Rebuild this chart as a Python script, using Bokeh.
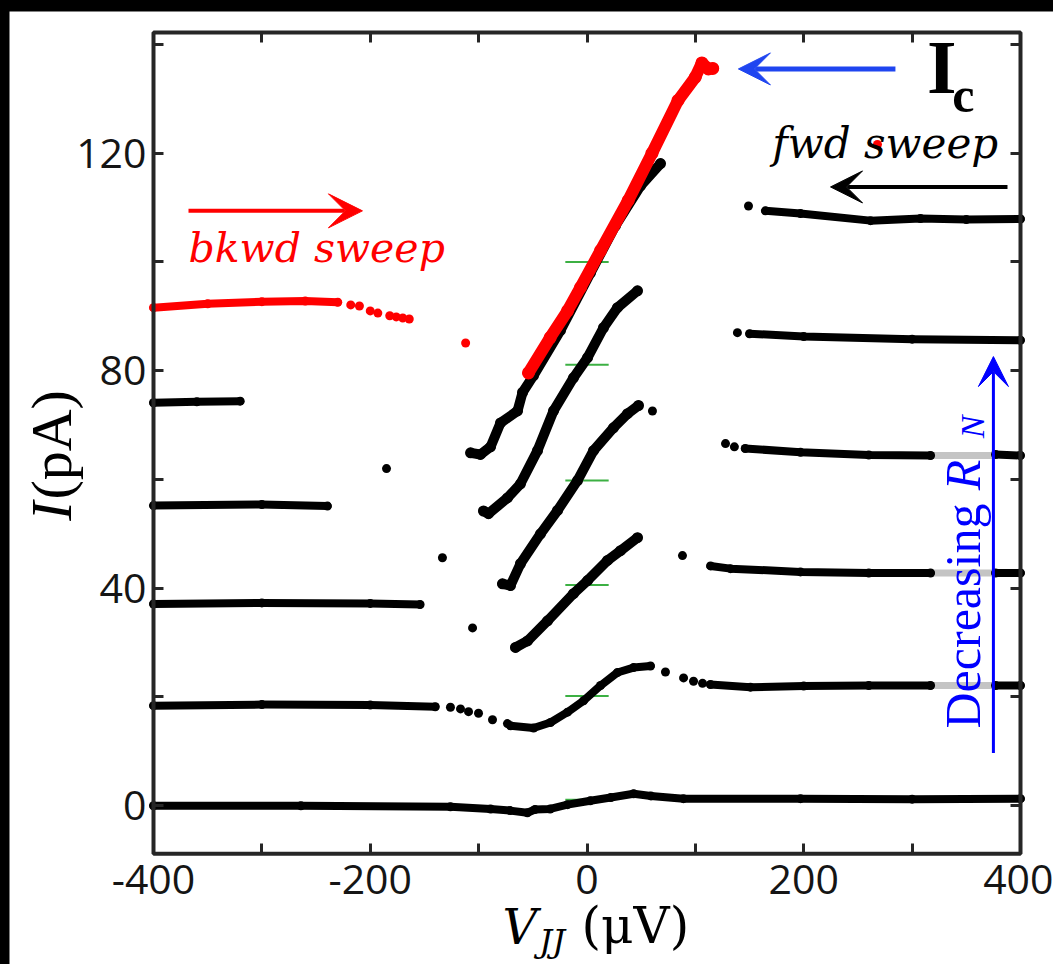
import numpy as np
from bokeh.plotting import figure
from bokeh.models import Range1d, LinearAxis, FixedTicker, Arrow, VeeHead, Label, BoxAnnotation
from bokeh.layouts import column
from bokeh.embed import file_html
from bokeh.resources import INLINE

# ---------------- data ----------------
# curve 0 (bottom)
c0_x = [-400, -264, -126, -89, -71, -55, -48, -34, -18, 3, 22, 43, 59, 89, 197, 300, 400]
c0_y = [0, 0, -0.2, -0.6, -0.9, -1.3, -0.7, -0.6, 0.2, 0.9, 1.5, 2.2, 1.8, 1.3, 1.3, 1.2, 1.3]

# curve 1
c1_left_x = [-400, -300, -200, -140]
c1_left_y = [18.4, 18.6, 18.5, 18.2]
c1_dots_x = [-126, -116.7, -109.3, -100.1, -87.2, -73.4, 72.4, 89.1, 98.3, 106.6]
c1_dots_y = [18.1, 17.8, 17.3, 17.0, 15.8, 15.1, 24.6, 23.5, 22.9, 22.5]
c1_mid_x = [-70.6, -49.3, -33.7, -18.0, -3.2, 12.5, 28.1, 42.9, 58.6]
c1_mid_y = [14.7, 14.3, 15.3, 17.2, 19.3, 22.1, 24.5, 25.4, 25.7]
c1_right_x = [113.9, 150.8, 200, 260, 317]
c1_right_y = [22.3, 21.8, 22.0, 22.1, 22.1]
c1_end_x = [377, 400]
c1_end_y = [22.1, 22.1]

# curve 2
c2_left_x = [-400, -300, -200, -154]
c2_left_y = [37.1, 37.3, 37.2, 37.0]
c2_slope_x = [-66.0, -54.9, -36.4, -12.5, 0.5, 18.9, 30.9, 46.6]
c2_slope_y = [29.1, 30.3, 34.0, 39.0, 41.4, 45.1, 46.9, 49.3]
c2_right_x = [114, 132.4, 197, 260, 317]
c2_right_y = [44.1, 43.6, 43.0, 42.8, 42.8]
c2_end_x = [377, 400]
c2_end_y = [42.8, 42.8]

# curve 3
c3_left_x = [-400, -300, -239.5]
c3_left_y = [55.2, 55.4, 55.1]
c3_slope_x = [-78.0, -70.6, -61.4, -42.9, -27.2, -8.8, 6.0, 24.4, 37.4, 47.5]
c3_slope_y = [40.8, 40.5, 44.5, 50.0, 54.3, 59.8, 65.3, 69.5, 72.1, 73.6]
c3_right_x = [146, 197, 260, 317]
c3_right_y = [65.7, 65.0, 64.5, 64.4]
c3_end_x = [377, 400]
c3_end_y = [64.6, 64.4]

# curve 4
c4_left_x = [-400, -360, -320]
c4_left_y = [74.1, 74.3, 74.4]
c4_slope_x = [-95.5, -90.9, -73.4, -61.4, -45.7, -30.9, -12.5, 0.5, 15.2, 28.1, 46.6]
c4_slope_y = [54.2, 53.7, 56.6, 59.2, 65.3, 72.6, 78.7, 82.4, 87.9, 91.6, 94.7]
c4_right_x = [150, 200, 300, 400]
c4_right_y = [86.8, 86.3, 85.8, 85.6]

# curve 5 (forward sweep, top)
c5_slope_x = [-107.4, -98.3, -89.0, -79.8, -64.1, -59.5, -49.4, -24.5, 3.2, 26.3, 49.4, 67.8]
c5_slope_y = [64.9, 64.6, 66.0, 70.4, 72.6, 76.0, 79.1, 87.4, 98.0, 106.7, 114.0, 118.1]
c5_right_x = [164.6, 197, 261.6, 307.7, 350, 400]
c5_right_y = [109.4, 108.9, 107.6, 108.0, 107.8, 107.9]

# isolated black points
blk_dots_x = [-133.4, -105.6, 88.1, 60.4, -185, 127.8, 136, 138.8, 149]
blk_dots_y = [45.6, 32.7, 46.0, 72.6, 62.0, 66.6, 66.0, 87.0, 110.3]

# backward sweep (red)
red_left_x = [-400, -350, -300, -260, -230]
red_left_y = [91.6, 92.3, 92.7, 92.8, 92.6]
red_dots_x = [-218, -210, -200, -193, -182, -176, -170, -164, -112, 268]
red_dots_y = [92.1, 91.9, 91.0, 90.6, 90.1, 89.9, 89.7, 89.5, 85.1, 121.6]
red_slope_x = [-54, -34, -18, -6, 12.5, 38, 60, 84, 100, 106, 112, 116]
red_slope_y = [79.6, 86.1, 91.0, 95.3, 102.1, 111.3, 120, 129.7, 134, 136.6, 135.5, 135.6]

# grey gaps on the right side
grey_y = [64.4, 42.8, 22.1]
grey_x0, grey_x1 = 317, 377

# green markers at zero bias
green_y = [100, 81.1, 59.8, 40.6, 20.2, 1.1]
green_x0, green_x1 = -20, 20

x_ticks = [-400, -300, -200, -100, 0, 100, 200, 300, 400]
x_labels = {-400: "-400", -200: "-200", 0: "0", 200: "200", 400: "400"}
y_ticks = [0, 20, 40, 60, 80, 100, 120, 140]
y_labels = {0: "0", 40: "40", 80: "80", 120: "120"}

# data box (axes limits)
XLO, XHI = -400, 400
YLO, YHI = -8.83, 142.2

# ---------------- figure ----------------
# The frame covers the whole canvas; axes are pinned to the data box.
W, H = 1044, 953
PXX = 1.08375     # px per uV
PXY = 5.4375      # px per pA
x_start = XLO - 144 / PXX
y_end = YHI + 21 / PXY
x_end = x_start + W / PXX
y_start = y_end - H / PXY

FRAME = "#262626"
p = figure(width=W, height=H, output_backend="svg", toolbar_location=None,
           x_range=Range1d(x_start, x_end), y_range=Range1d(y_start, y_end),
           min_border=0, x_axis_location=None, y_axis_location=None, margin=(11, 0, 0, 9))
p.background_fill_color = "white"
p.border_fill_color = "white"
p.grid.visible = False
p.outline_line_color = None


def make_axis(ticks, labels, show, loc, standoff):
    ax = LinearAxis(ticker=FixedTicker(ticks=ticks), fixed_location=loc)
    ax.major_label_overrides = {t: (labels.get(t, "") if show else "") for t in ticks}
    ax.axis_line_color = None
    ax.major_tick_in = 10
    ax.major_tick_out = 0
    ax.major_tick_line_width = 3
    ax.major_tick_line_color = FRAME
    ax.minor_tick_line_color = None
    if show:
        ax.major_label_text_font = "Open Sans"
        ax.major_label_text_font_size = "41px"
        ax.major_label_text_color = "#151515"
        ax.major_label_standoff = standoff
    else:
        ax.major_label_text_font_size = "1px"
        ax.major_label_standoff = 0
    return ax


p.add_layout(make_axis(x_ticks, x_labels, True, YLO, 11), "below")
p.add_layout(make_axis(x_ticks, x_labels, False, YHI, 0), "above")
p.add_layout(make_axis(y_ticks, y_labels, True, XLO, 7), "left")
p.add_layout(make_axis(y_ticks, y_labels, False, XHI, 0), "right")

p.add_layout(BoxAnnotation(left=XLO, right=XHI, bottom=YLO, top=YHI, fill_alpha=0,
                           line_color=FRAME, line_alpha=1.0, line_width=4))

# grey and green guide segments
p.segment(x0=[grey_x0] * len(grey_y), x1=[grey_x1] * len(grey_y), y0=grey_y, y1=grey_y,
          line_color="#c4c4c4", line_width=7)
p.segment(x0=[green_x0] * len(green_y), x1=[green_x1] * len(green_y), y0=green_y, y1=green_y,
          line_color="#3cb043", line_width=2)

BLK = "#000000"
RED = "#ff0000"


def dense(xs, ys, color, lw=8):
    p.line(xs, ys, line_color=color, line_width=lw, line_cap="round", line_join="round")
    p.scatter(xs, ys, size=lw + 1, fill_color=color, line_color=None)


for xs, ys in [(c0_x, c0_y), (c1_left_x, c1_left_y), (c1_mid_x, c1_mid_y),
               (c1_right_x, c1_right_y), (c1_end_x, c1_end_y),
               (c2_left_x, c2_left_y), (c2_right_x, c2_right_y), (c2_end_x, c2_end_y),
               (c3_left_x, c3_left_y), (c3_right_x, c3_right_y), (c3_end_x, c3_end_y),
               (c4_left_x, c4_left_y), (c4_right_x, c4_right_y), (c5_right_x, c5_right_y)]:
    dense(xs, ys, BLK, 8)

for xs, ys in [(c2_slope_x, c2_slope_y), (c3_slope_x, c3_slope_y),
               (c4_slope_x, c4_slope_y), (c5_slope_x, c5_slope_y)]:
    dense(xs, ys, BLK, 10)

p.scatter(c1_dots_x, c1_dots_y, size=9, fill_color=BLK, line_color=None)
p.scatter(blk_dots_x, blk_dots_y, size=9, fill_color=BLK, line_color=None)

dense(red_left_x, red_left_y, RED, 8)
dense(red_slope_x, red_slope_y, RED, 12)
p.scatter(red_dots_x, red_dots_y, size=9, fill_color=RED, line_color=None)


# ---------------- annotations ----------------
def arrow(x0, y0, x1, y1, color, lw, size):
    p.add_layout(Arrow(end=VeeHead(size=size, fill_color=color, line_color=color),
                       x_start=x0, y_start=y0, x_end=x1, y_end=y1,
                       line_color=color, line_width=lw))


arrow(284.6, 135.5, 139.7, 135.5, "#1f45f0", 5, 32)     # I_c arrow
arrow(388, 113.8, 224.7, 113.8, "#000000", 4, 32)       # fwd sweep arrow
arrow(-367.7, 109.4, -207.2, 109.4, "#ff0000", 4, 34)   # bkwd sweep arrow
arrow(375, 9.7, 375, 82.6, "#0000ff", 3, 30)            # decreasing R_N arrow

BASE = 0.36  # label anchor sits ~0.36 em below its baseline


def label(x, y, text, size, color="black", font="Liberation Serif", style="normal", rotated=False):
    # (x, y) = start of the text baseline in data units
    if rotated:
        x = x - BASE * size / PXX
        ang = np.pi / 2
    else:
        y = y + BASE * size / PXY
        ang = 0.0
    p.add_layout(Label(x=x, y=y, text=text, text_font=font, text_font_size=f"{size}px",
                       text_font_style=style, text_color=color, angle=ang,
                       text_baseline="alphabetic", text_align="left"))


label(313.8, 130.9, "I", 76, style="bold")
label(337.0, 127.4, "c", 50, style="bold")
label(171.0, 119.0, "fwd sweep", 42, font="DejaVu Serif", style="italic")
label(-367.7, 99.9, "bkwd sweep", 41, color="#ff0000", font="DejaVu Serif", style="italic")

label(363.1, 14.2, "Decreasing", 50, color="#0000ff", rotated=True)
label(363.1, 58.0, "R", 50, color="#0000ff", style="italic", rotated=True)
label(366.8, 67.6, "N", 34, color="#0000ff", style="italic", rotated=True)

# axis titles
label(-474.7, 52.4, "I", 58, style="italic", rotated=True)
label(-474.7, 56.3, "(pA)", 58, rotated=True)
label(-78.0, -25.4, "V", 48, font="DejaVu Serif", style="italic")
label(-44.0, -27.0, "JJ", 32, font="DejaVu Serif", style="italic")
label(-5.0, -25.4, "(\u03bcV)", 50, font="DejaVu Serif")

layout = column(p, styles={"background-color": "black"}, width=1053, height=964)
open("out.html", "w").write(file_html(layout, INLINE))
